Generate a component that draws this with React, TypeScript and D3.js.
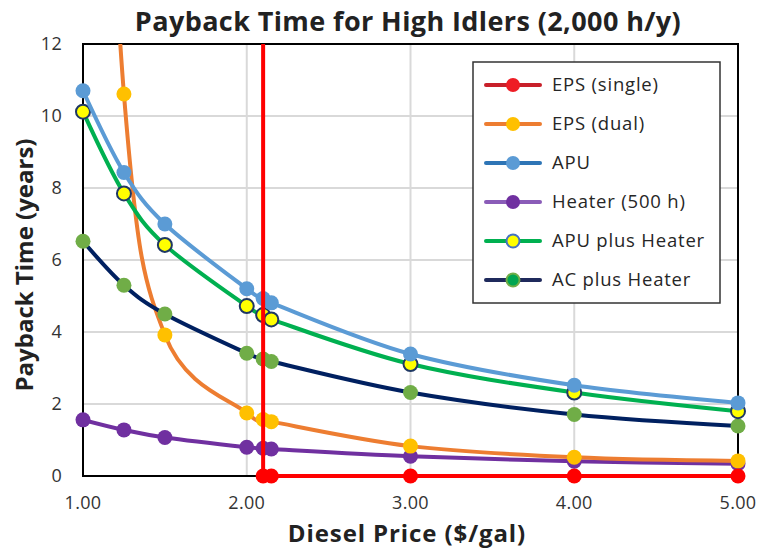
import React from 'react';
import * as d3 from 'd3';

const prices = [1.0, 1.25, 1.5, 2.0, 2.1, 2.15, 3.0, 4.0, 5.0];
const apu = [10.7, 8.43, 7.0, 5.2, 4.93, 4.81, 3.39, 2.52, 2.03];
const apuHeater = [10.12, 7.85, 6.42, 4.72, 4.47, 4.35, 3.11, 2.32, 1.8];
const acHeater = [6.52, 5.3, 4.5, 3.41, 3.25, 3.18, 2.32, 1.71, 1.39];
const epsDual = [32, 10.61, 3.92, 1.75, 1.57, 1.51, 0.83, 0.52, 0.42];
const heater = [1.56, 1.28, 1.07, 0.8, 0.77, 0.75, 0.55, 0.41, 0.34];
const epsSinglePrices = [2.1, 2.1, 2.15, 3.0, 4.0, 5.0];
const epsSingle = [100, 0, 0, 0, 0, 0];
const xTicks = [1, 2, 3, 4, 5];
const yTicks = [0, 2, 4, 6, 8, 10, 12];

type Series = {
  name: string;
  xs: number[];
  ys: number[];
  line: string;
  fill: string;
  stroke?: string;
  legLine: string;
  legFill: string;
  legStroke?: string;
  smooth: boolean;
};

const legendOrder = ['EPS (single)', 'EPS (dual)', 'APU', 'Heater (500 h)', 'APU plus Heater', 'AC plus Heater'];

const series: Series[] = [
  { name: 'Heater (500 h)', xs: prices, ys: heater, line: '#7030A0', fill: '#7030A0', legLine: '#8A5CB8', legFill: '#7030A0', smooth: true },
  { name: 'EPS (dual)', xs: prices, ys: epsDual, line: '#ED7D31', fill: '#FFC000', legLine: '#ED7D31', legFill: '#FFC000', smooth: true },
  { name: 'AC plus Heater', xs: prices, ys: acHeater, line: '#002060', fill: '#70AD47', legLine: '#1F2A5C', legFill: '#00A651', legStroke: '#70AD47', smooth: true },
  { name: 'APU plus Heater', xs: prices, ys: apuHeater, line: '#00B050', fill: '#FFFF00', stroke: '#1F3864', legLine: '#00B050', legFill: '#FFFF00', legStroke: '#4472C4', smooth: true },
  { name: 'APU', xs: prices, ys: apu, line: '#5B9BD5', fill: '#5B9BD5', legLine: '#2E75B6', legFill: '#5B9BD5', smooth: true },
  { name: 'EPS (single)', xs: epsSinglePrices, ys: epsSingle, line: '#FF0000', fill: '#FF0000', legLine: '#C8202A', legFill: '#EE1C25', smooth: false },
];

const W = 761, H = 550;
const L = 83, R = 738, T = 44, B = 476;
const FONT = '"Open Sans", Lato, sans-serif';

export default function App() {
  const x = d3.scaleLinear().domain([1, 5]).range([L, R]);
  const y = d3.scaleLinear().domain([0, 12]).range([B, T]);

  const mkLine = (smooth: boolean) =>
    d3.line<[number, number]>()
      .x(d => x(d[0]))
      .y(d => y(d[1]))
      .curve(smooth ? d3.curveCardinal.tension(0) : d3.curveLinear);

  return (
    <svg width={W} height={H} style={{ position: 'absolute', left: 0, top: 0, background: '#fff' }} fontFamily={FONT}>
      <defs>
        <clipPath id="plotclip">
          <rect x={L} y={T} width={R - L} height={B - T + 3} />
        </clipPath>
      </defs>
      <rect x={0} y={0} width={W} height={H} fill="#fff" />
      {xTicks.slice(1, -1).map(t => (
        <line key={'gx' + t} x1={x(t)} x2={x(t)} y1={T} y2={B} stroke="#D9D9D9" strokeWidth={2} />
      ))}
      {yTicks.slice(1, -1).map(t => (
        <line key={'gy' + t} x1={L} x2={R} y1={y(t)} y2={y(t)} stroke="#D9D9D9" strokeWidth={2} />
      ))}
      <rect x={L} y={T} width={R - L} height={B - T} fill="none" stroke="#000" strokeWidth={2} />
      {series.map(s => {
        const pts: [number, number][] = s.xs.map((v, i) => [v, s.ys[i]]);
        return (
          <g key={s.name}>
            <path d={mkLine(s.smooth)(pts) || ''} fill="none" stroke={s.line} strokeWidth={4} strokeLinejoin="round" clipPath="url(#plotclip)" />
            {pts.filter(p => p[1] <= 12).map((p, i) => (
              <circle key={i} cx={x(p[0])} cy={y(p[1])} r={s.stroke ? 7 : 7.5} fill={s.fill} stroke={s.stroke || 'none'} strokeWidth={s.stroke ? 2 : 0} />
            ))}
          </g>
        );
      })}
      {yTicks.map(t => (
        <text key={'yt' + t} x={62} y={y(t)} dy="0.35em" textAnchor="end" fontSize={18} letterSpacing={0.3} fill="#333">{t}</text>
      ))}
      {xTicks.map(t => (
        <text key={'xt' + t} x={x(t)} y={503} dy="0.35em" textAnchor="middle" fontSize={18} letterSpacing={0.3} fill="#333">{t.toFixed(2)}</text>
      ))}
      <text x={408} y={22} dy="0.35em" textAnchor="middle" fontSize={27} letterSpacing={0.4} fontWeight="bold" fill="#222">Payback Time for High Idlers (2,000 h/y)</text>
      <text x={407} y={534} dy="0.35em" textAnchor="middle" fontSize={24} letterSpacing={0.9} fontWeight="bold" fill="#222">Diesel Price ($/gal)</text>
      <text transform={`translate(25,265) rotate(-90)`} dy="0.35em" textAnchor="middle" fontSize={24} fontWeight="bold" fill="#222">Payback Time (years)</text>
      <rect x={473} y={62} width={247} height={241} fill="#fff" stroke="#333" strokeWidth={1.5} />
      {legendOrder.map((n, i) => {
        const s = series.find(v => v.name === n)!;
        const cy = 85 + i * 39;
        return (
          <g key={'lg' + n}>
            <line x1={486} x2={540} y1={cy} y2={cy} stroke={s.legLine} strokeWidth={4} strokeLinecap="round" />
            <circle cx={513} cy={cy} r={s.legStroke ? 6.5 : 7} fill={s.legFill} stroke={s.legStroke || 'none'} strokeWidth={s.legStroke ? 2 : 0} />
            <text x={552} y={cy} dy="0.35em" fontSize={18.5} letterSpacing={0.8} fill="#262626">{n}</text>
          </g>
        );
      })}
    </svg>
  );
}
